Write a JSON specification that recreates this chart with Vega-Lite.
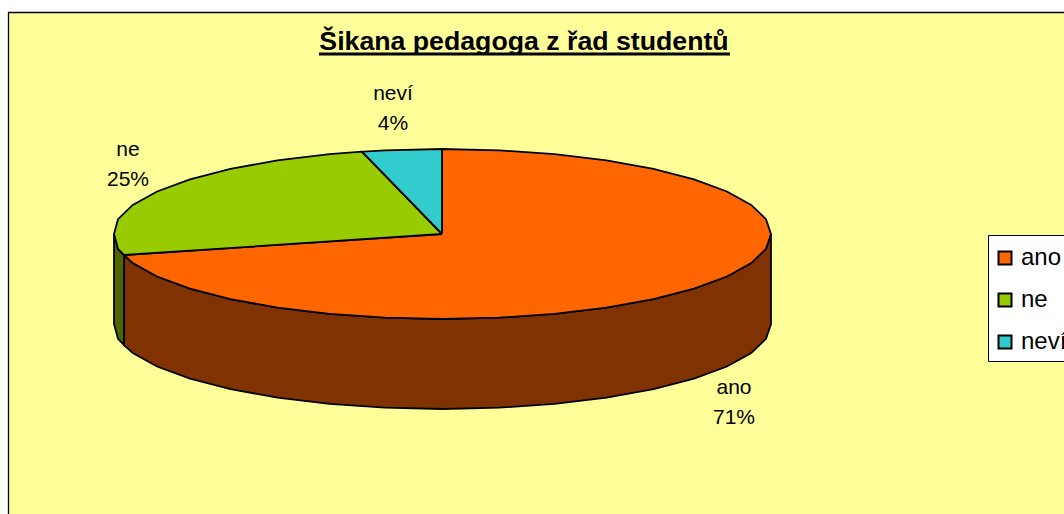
{"$schema":"https://vega.github.io/schema/vega-lite/v6.json","width":1064,"height":514,"autosize":{"type":"none"},"padding":0,"background":"white","view":{"stroke":null},"config":{"font":"Liberation Sans"},"title":{"text":"Šikana pedagoga z řad studentů","font":"Liberation Sans","fontSize":26.7,"fontWeight":"bold","color":"black","anchor":"middle","dx":-8,"dy":56,"offset":0},"datasets":{"panel":[{"x":8.5,"x2":1100,"y":12.5,"y2":540}],"sideAno":[{"i":0,"x":771,"y":234},{"i":1,"x":766,"y":248.8},{"i":2,"x":751.2,"y":263.1},{"i":3,"x":726.9,"y":276.5},{"i":4,"x":694,"y":288.6},{"i":5,"x":653.5,"y":299.1},{"i":6,"x":606.5,"y":307.6},{"i":7,"x":554.5,"y":313.9},{"i":8,"x":499.1,"y":317.7},{"i":9,"x":442,"y":319},{"i":10,"x":384.9,"y":317.7},{"i":11,"x":329.5,"y":313.9},{"i":12,"x":277.5,"y":307.6},{"i":13,"x":230.5,"y":299.1},{"i":14,"x":190,"y":288.6},{"i":15,"x":157.1,"y":276.5},{"i":16,"x":132.8,"y":263.1},{"i":17,"x":124,"y":255},{"i":18,"x":124,"y":345},{"i":19,"x":132.8,"y":353.1},{"i":20,"x":157.1,"y":366.5},{"i":21,"x":190,"y":378.6},{"i":22,"x":230.5,"y":389.1},{"i":23,"x":277.5,"y":397.6},{"i":24,"x":329.5,"y":403.9},{"i":25,"x":384.9,"y":407.7},{"i":26,"x":442,"y":409},{"i":27,"x":499.1,"y":407.7},{"i":28,"x":554.5,"y":403.9},{"i":29,"x":606.5,"y":397.6},{"i":30,"x":653.5,"y":389.1},{"i":31,"x":694,"y":378.6},{"i":32,"x":726.9,"y":366.5},{"i":33,"x":751.2,"y":353.1},{"i":34,"x":766,"y":338.8},{"i":35,"x":771,"y":324},{"i":36,"x":771,"y":234}],"sideNe":[{"i":0,"x":124,"y":255},{"i":1,"x":118,"y":248.8},{"i":2,"x":114,"y":234},{"i":3,"x":114,"y":324},{"i":4,"x":118,"y":338.8},{"i":5,"x":124,"y":345},{"i":6,"x":124,"y":255}],"slices":[{"category":"ano","i":0,"x":442,"y":234},{"category":"ano","i":1,"x":442,"y":149},{"category":"ano","i":2,"x":499.1,"y":150.3},{"category":"ano","i":3,"x":554.5,"y":154.1},{"category":"ano","i":4,"x":606.5,"y":160.4},{"category":"ano","i":5,"x":653.5,"y":168.9},{"category":"ano","i":6,"x":694,"y":179.4},{"category":"ano","i":7,"x":726.9,"y":191.5},{"category":"ano","i":8,"x":751.2,"y":204.9},{"category":"ano","i":9,"x":766,"y":219.2},{"category":"ano","i":10,"x":771,"y":234},{"category":"ano","i":11,"x":766,"y":248.8},{"category":"ano","i":12,"x":751.2,"y":263.1},{"category":"ano","i":13,"x":726.9,"y":276.5},{"category":"ano","i":14,"x":694,"y":288.6},{"category":"ano","i":15,"x":653.5,"y":299.1},{"category":"ano","i":16,"x":606.5,"y":307.6},{"category":"ano","i":17,"x":554.5,"y":313.9},{"category":"ano","i":18,"x":499.1,"y":317.7},{"category":"ano","i":19,"x":442,"y":319},{"category":"ano","i":20,"x":384.9,"y":317.7},{"category":"ano","i":21,"x":329.5,"y":313.9},{"category":"ano","i":22,"x":277.5,"y":307.6},{"category":"ano","i":23,"x":230.5,"y":299.1},{"category":"ano","i":24,"x":190,"y":288.6},{"category":"ano","i":25,"x":157.1,"y":276.5},{"category":"ano","i":26,"x":132.8,"y":263.1},{"category":"ano","i":27,"x":124,"y":255},{"category":"ano","i":28,"x":442,"y":234},{"category":"ne","i":0,"x":442,"y":234},{"category":"ne","i":1,"x":124,"y":255},{"category":"ne","i":2,"x":118,"y":248.8},{"category":"ne","i":3,"x":114,"y":234},{"category":"ne","i":4,"x":118,"y":219.2},{"category":"ne","i":5,"x":132.8,"y":204.9},{"category":"ne","i":6,"x":157.1,"y":191.5},{"category":"ne","i":7,"x":190,"y":179.4},{"category":"ne","i":8,"x":230.5,"y":168.9},{"category":"ne","i":9,"x":277.5,"y":160.4},{"category":"ne","i":10,"x":329.5,"y":154.1},{"category":"ne","i":11,"x":362,"y":151.7},{"category":"ne","i":12,"x":442,"y":234},{"category":"neví","i":0,"x":442,"y":234},{"category":"neví","i":1,"x":362,"y":151.7},{"category":"neví","i":2,"x":384.9,"y":150.3},{"category":"neví","i":3,"x":442,"y":149},{"category":"neví","i":4,"x":442,"y":234}],"labels":[{"x":734,"y":388,"label":"ano"},{"x":734,"y":418,"label":"71%"},{"x":128,"y":150,"label":"ne"},{"x":128,"y":180,"label":"25%"},{"x":393,"y":94,"label":"neví"},{"x":393,"y":124,"label":"4%"}],"underline":[{"x":319,"x2":730,"y":54}]},"encoding":{"x":{"field":"x","type":"quantitative","scale":{"domain":[0,1064],"range":[0,1064],"nice":false,"zero":false},"axis":null},"y":{"field":"y","type":"quantitative","scale":{"domain":[0,514],"range":[0,514],"nice":false,"zero":false},"axis":null}},"layer":[{"data":{"name":"panel"},"mark":{"type":"rect","fill":"#FFFF99","stroke":"black","strokeWidth":1.3},"encoding":{"x2":{"field":"x2"},"y2":{"field":"y2"}}},{"data":{"name":"underline"},"mark":{"type":"rule","stroke":"black","strokeWidth":3},"encoding":{"x2":{"field":"x2"}}},{"data":{"name":"sideAno"},"mark":{"type":"line","filled":true,"fill":"#803300","stroke":"black","strokeWidth":1.8},"encoding":{"order":{"field":"i"}}},{"data":{"name":"sideNe"},"mark":{"type":"line","filled":true,"fill":"#4D6600","stroke":"black","strokeWidth":1.8},"encoding":{"order":{"field":"i"}}},{"data":{"name":"slices"},"mark":{"type":"line","filled":true,"stroke":"black","strokeWidth":1.8},"encoding":{"order":{"field":"i"},"fill":{"field":"category","type":"nominal","scale":{"domain":["ano","ne","neví"],"range":["#FF6600","#99CC00","#33CCCC"]},"legend":{"title":" ","titleFontSize":1,"titlePadding":3,"orient":"none","legendX":988,"legendY":235,"fillColor":"white","strokeColor":"black","padding":7,"symbolType":"square","symbolSize":169,"symbolOffset":-2,"symbolStrokeColor":"black","symbolStrokeWidth":2,"labelFont":"Liberation Sans","labelFontSize":24,"labelColor":"black","labelOffset":4,"rowPadding":18}}}},{"data":{"name":"labels"},"mark":{"type":"text","font":"Liberation Sans","fontSize":21,"color":"black","align":"center","baseline":"middle"},"encoding":{"text":{"field":"label","type":"nominal"}}}]}
